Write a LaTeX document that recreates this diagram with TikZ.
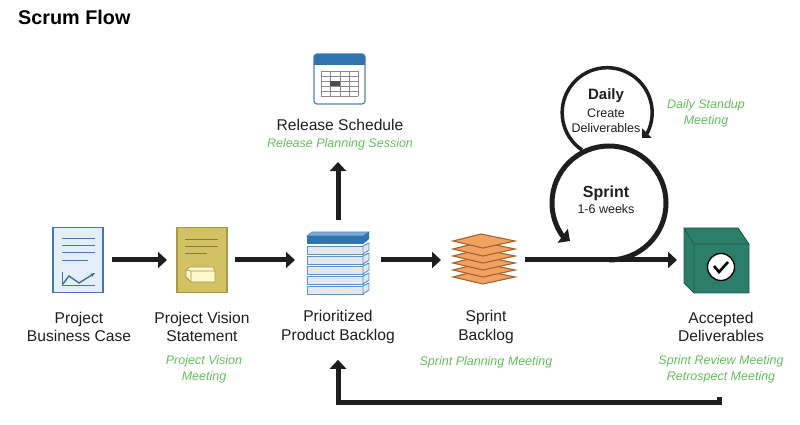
\documentclass[tikz,border=0pt]{standalone}
\usepackage{fontspec}
\setmainfont{Liberation Sans}
\usetikzlibrary{arrows.meta,positioning}
\definecolor{notegreen}{HTML}{63BE5A}
\definecolor{inkblack}{HTML}{1E1E1E}
\definecolor{caseblue}{HTML}{4A75B5}
\definecolor{casefill}{HTML}{E3F0FA}
\definecolor{visionfill}{HTML}{D2C264}
\definecolor{visionline}{HTML}{A89A4C}
\definecolor{stackblue}{HTML}{2F74B0}
\definecolor{stackline}{HTML}{5C92C4}
\definecolor{stackfill}{HTML}{E1E8EF}
\definecolor{orangefill}{HTML}{F0A263}
\definecolor{orangeline}{HTML}{A8622A}
\definecolor{boxgreen}{HTML}{2C7D69}
\definecolor{boxline}{HTML}{1C5E4E}
\definecolor{brickfill}{HTML}{FFF8C8}
\tikzset{
  iconbox/.style={minimum width=#1,inner sep=0pt,outer sep=0pt},
  steplabel/.style={align=center,text=inkblack,font=\fontsize{15.6}{18.6}\selectfont,inner sep=0pt},
  notelabel/.style={align=center,text=notegreen,font=\fontsize{12.5}{16}\selectfont\itshape,inner sep=0pt},
  flowarrow/.style={line width=5pt,draw=inkblack,-{Triangle[width=16pt,length=9pt]},shorten <=9pt,shorten >=9pt},
}
\begin{document}
\begin{tikzpicture}[x=1pt,y=1pt]
\useasboundingbox (0,0) rectangle (800,425);

\node[anchor=base west,inner sep=0pt,text=black,font=\fontsize{19.8}{24}\selectfont\bfseries] (title) at (18,400) {Scrum Flow};

% icons
\node[iconbox=50pt,minimum height=65pt,draw=caseblue,line width=1.2pt,fill=casefill] (case) at (78,165) {};
\foreach \y/\xe in {186/95,179/95,172/95,164/88}
  \draw[caseblue,line width=1pt] (62,\y) -- (\xe,\y);
\draw[caseblue,line width=1pt] (62,153) -- (62,139) -- (95,139);
\draw[caseblue!85!black,line width=1.3pt,-{Stealth[length=5pt]}] (63,141) -- (69,149) -- (79,142) -- (95,152);

\node[iconbox=50pt,minimum height=65pt,draw=visionline,line width=1.2pt,fill=visionfill] (vision) at (202,165) {};
\foreach \y/\xe in {186/218,179/218,172/207}
  \draw[visionline!80!black,line width=.9pt] (185,\y) -- (\xe,\y);
\draw[visionline,line width=.8pt,fill=brickfill] (186,148) -- (186,155) -- (190,158) -- (213,158) -- (215,154) -- (215,143) -- (191,143) -- cycle;
\draw[visionline,line width=.8pt] (191,143) -- (191,154) -- (215,154) (191,154) -- (186,155);

\node[iconbox=62pt,minimum height=62pt] (backlog) at (338,165) {};
\foreach \y in {131,141,151,161,171} {
  \draw[stackline,line width=.9pt,fill=stackfill] (307,\y) rectangle (363,\y+8);
  \draw[stackline,line width=.9pt,fill=stackfill] (363,\y) -- (369,\y+4) -- (369,\y+11) -- (363,\y+8) -- cycle;
}
\draw[stackline,line width=.8pt,fill=stackline!80] (307,189) -- (312,193) -- (369,193) -- (363,189) -- cycle;
\fill[stackblue] (307,181) rectangle (363,189) (363,181) -- (369,186) -- (369,193) -- (363,189) -- cycle;

\node[iconbox=62pt,minimum height=52pt] (sprintlog) at (484,165) {};
\foreach \y in {148,155,162,169,176,184}
  \draw[orangeline,line width=1.1pt,fill=orangefill] (453,\y) -- (483,\y-7) -- (515,\y) -- (481,\y+7) -- cycle;

\node[iconbox=66pt,minimum height=54pt] (deliver) at (716,165) {};
\draw[boxline,line width=.9pt,fill=boxgreen] (684,197) -- (738,197) -- (749,181) -- (749,132) -- (694,132) -- (684,142) -- cycle;
\draw[boxline,line width=.9pt] (684,197) -- (694,181) -- (749,181) (694,181) -- (694,132);
\draw[black,line width=1.3pt,fill=white] (721,158) circle (13.5);
\draw[black,line width=2.6pt] (714,159) -- (719,153) -- (728,163);

\node[iconbox=51pt,minimum height=50pt] (release) at (339.5,346) {};
\draw[stackline!90!black,line width=1.2pt,fill=white,rounded corners=3pt] (314,321) rectangle (365,371);
\fill[stackblue,rounded corners=3pt] (314,360) rectangle (365,371);
\fill[stackblue] (314,360) rectangle (365,364);
\foreach \x in {321,330,340,349,358}
  \draw[black!45,line width=.7pt] (\x,329) -- (\x,354);
\foreach \y in {329,334,339,344,349,354}
  \draw[black!45,line width=.7pt] (321,\y) -- (358,\y);
\fill[black!70] (330,339) rectangle (340,344);

% labels
\node[steplabel] (caselabel) at (79,98) {Project\\Business Case};
\node[steplabel] (visionlabel) at (202,98) {Project Vision\\Statement};
\node[steplabel] (backloglabel) at (338,98) {Prioritized\\Product Backlog};
\node[steplabel] (sprintloglabel) at (486,98) {Sprint\\Backlog};
\node[steplabel] (deliverlabel) at (721,98) {Accepted\\Deliverables};
\node[steplabel] (releaselabel) at (340,300) {Release Schedule};

\node[notelabel] (releasenote) at (340,281) {Release Planning Session};
\node[notelabel] (visionnote) at (204,56) {Project Vision\\Meeting};
\node[notelabel] (sprintlognote) at (486,63) {Sprint Planning Meeting};
\node[notelabel] (delivernote) at (721,56) {Sprint Review Meeting\\Retrospect Meeting};
\node[notelabel] (dailynote) at (706,312) {Daily Standup\\Meeting};

\node[font=\fontsize{15}{18}\selectfont\bfseries,text=inkblack,inner sep=0pt] (daily) at (606,329) {Daily};
\node[font=\fontsize{12.5}{15}\selectfont,align=center,text=inkblack,inner sep=0pt] (dailytext) at (606,304) {Create\\Deliverables};
\node[font=\fontsize{16}{19}\selectfont\bfseries,text=inkblack,inner sep=0pt] (sprint) at (606,232) {Sprint};
\node[font=\fontsize{12.5}{15}\selectfont,text=inkblack,inner sep=0pt] (weeks) at (606,216) {1-6 weeks};

% connectors
\draw[flowarrow,shorten >=10pt] (case) -- (vision);
\draw[flowarrow,shorten <=8pt,shorten >=12pt] (vision) -- (backlog);
\draw[flowarrow,shorten <=12pt,shorten >=12pt] (backlog) -- (sprintlog);
\draw[flowarrow,shorten <=10pt,shorten >=6pt] (sprintlog) -- (deliver);
\draw[flowarrow,shorten <=9pt,shorten >=12pt] (backlog.north) -- (releasenote.south -| backlog.north);
\coordinate (fbstart) at (719,28);
\draw[flowarrow,shorten <=0pt,shorten >=16pt] (fbstart) -- ++(0,-5.5) -| (backloglabel.south);

% cycles
\draw[inkblack,line width=5pt,-{Triangle[width=17pt,length=9pt]}] (609,165) arc[start angle=-90,end angle=214.4,radius=57] -- (570,184);
\draw[inkblack,line width=3.5pt,-{Triangle[width=13pt,length=7pt]}] (582,275) arc[start angle=236,end angle=-26,radius=45] -- (642,287);
\end{tikzpicture}
\end{document}
